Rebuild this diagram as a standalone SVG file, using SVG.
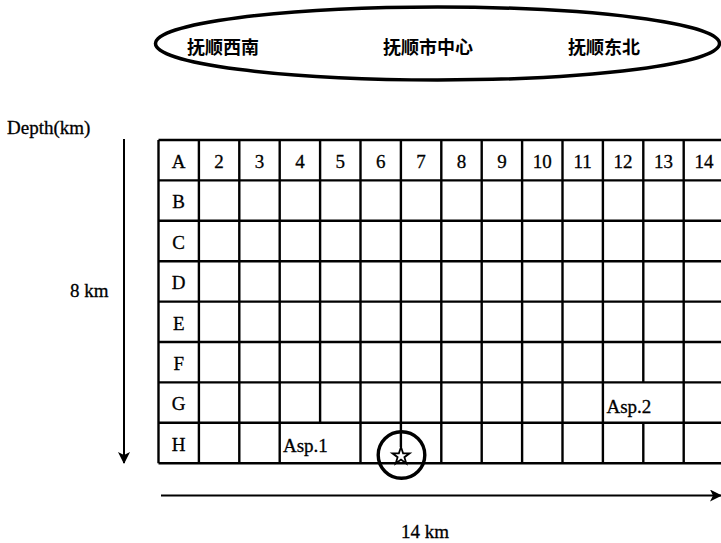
<svg xmlns="http://www.w3.org/2000/svg" width="721" height="543" viewBox="0 0 721 543">
<style>
.t{font-family:"Liberation Serif","Times New Roman",serif;font-size:19px;fill:#000;stroke:#000;stroke-width:0.3}
.c{text-anchor:middle}
.cjk{font-family:"Noto Sans CJK SC","Noto Sans CJK TC",sans-serif;font-size:18px;font-weight:bold;fill:#000}
.g{stroke:#000;stroke-width:2.4;fill:none}
.ax{stroke:#000;stroke-width:2;fill:none}
</style>
<defs>
<marker id="ah" viewBox="0 0 12 12" refX="11" refY="6" markerWidth="12" markerHeight="12" markerUnits="userSpaceOnUse" orient="auto">
<path d="M0,0 L12,6 L0,12 L3,6 Z" fill="#000"/>
</marker>
</defs>
<rect width="721" height="543" fill="#fff"/>

<g id="region-ellipse">
<ellipse cx="437.5" cy="43.5" rx="282" ry="36.5" fill="none" stroke="#000" stroke-width="3.5"/>
<text class="cjk" x="187" y="54">抚顺西南</text>
<text class="cjk" x="383" y="54">抚顺市中心</text>
<text class="cjk" x="568" y="54">抚顺东北</text>
</g>

<g id="axis-labels">
<text class="t" x="7" y="134">Depth(km)</text>
<text class="t" x="70" y="297">8 km</text>
<text class="t c" x="425" y="538">14 km</text>
</g>

<g id="connectors">
<line class="ax" x1="124" y1="139" x2="124" y2="463" marker-end="url(#ah)"/>
<line class="ax" x1="161" y1="495.5" x2="721" y2="495.5" marker-end="url(#ah)"/>
</g>

<g id="grid">
<g class="g">
<line x1="158.5" y1="140" x2="724" y2="140"/>
<line x1="158.5" y1="180.4" x2="724" y2="180.4"/>
<line x1="158.5" y1="220.8" x2="724" y2="220.8"/>
<line x1="158.5" y1="261.2" x2="724" y2="261.2"/>
<line x1="158.5" y1="301.6" x2="724" y2="301.6"/>
<line x1="158.5" y1="342" x2="724" y2="342"/>
<line x1="158.5" y1="382.4" x2="724" y2="382.4"/>
<line x1="158.5" y1="422.8" x2="724" y2="422.8"/>
<line x1="158.5" y1="463.2" x2="724" y2="463.2"/>
<line x1="158.5" y1="140" x2="158.5" y2="463.2"/>
<line x1="198.9" y1="140" x2="198.9" y2="463.2"/>
<line x1="239.3" y1="140" x2="239.3" y2="463.2"/>
<line x1="279.7" y1="140" x2="279.7" y2="463.2"/>
<line x1="320.1" y1="140" x2="320.1" y2="422.8"/>
<line x1="360.5" y1="140" x2="360.5" y2="463.2"/>
<line x1="400.9" y1="140" x2="400.9" y2="447"/>
<line x1="441.3" y1="140" x2="441.3" y2="463.2"/>
<line x1="481.7" y1="140" x2="481.7" y2="463.2"/>
<line x1="522.1" y1="140" x2="522.1" y2="463.2"/>
<line x1="562.5" y1="140" x2="562.5" y2="463.2"/>
<line x1="602.9" y1="140" x2="602.9" y2="463.2"/>
<line x1="643.3" y1="140" x2="643.3" y2="382.4"/>
<line x1="643.3" y1="422.8" x2="643.3" y2="463.2"/>
<line x1="683.7" y1="140" x2="683.7" y2="463.2"/>
</g>
<g id="header-row">
<text class="t c" x="178.7" y="168">A</text>
<text class="t c" x="219.1" y="168">2</text>
<text class="t c" x="259.5" y="168">3</text>
<text class="t c" x="299.9" y="168">4</text>
<text class="t c" x="340.3" y="168">5</text>
<text class="t c" x="380.7" y="168">6</text>
<text class="t c" x="421.1" y="168">7</text>
<text class="t c" x="461.5" y="168">8</text>
<text class="t c" x="501.9" y="168">9</text>
<text class="t c" x="542.3" y="168">10</text>
<text class="t c" x="582.7" y="168">11</text>
<text class="t c" x="623.1" y="168">12</text>
<text class="t c" x="663.5" y="168">13</text>
<text class="t c" x="703.9" y="168">14</text>
</g>
<g id="row-labels">
<text class="t c" x="178.7" y="208.4">B</text>
<text class="t c" x="178.7" y="248.8">C</text>
<text class="t c" x="178.7" y="289.2">D</text>
<text class="t c" x="178.7" y="329.6">E</text>
<text class="t c" x="178.7" y="370">F</text>
<text class="t c" x="178.7" y="410.4">G</text>
<text class="t c" x="178.7" y="450.8">H</text>
</g>
</g>

<g id="asp1">
<text class="t" x="283" y="452">Asp.1</text>
</g>
<g id="asp2">
<text class="t" x="606.5" y="412.5">Asp.2</text>
</g>

<g id="epicenter">
<circle cx="401.5" cy="455" r="23.3" fill="none" stroke="#000" stroke-width="3.4"/>
<polygon points="401,447 403.1,453.3 409.6,453.3 404.4,457.2 406.3,463.5 401,459.6 395.7,463.5 397.6,457.2 392.4,453.3 398.9,453.3" fill="#fff" stroke="#000" stroke-width="1.8"/>
</g>
</svg>
